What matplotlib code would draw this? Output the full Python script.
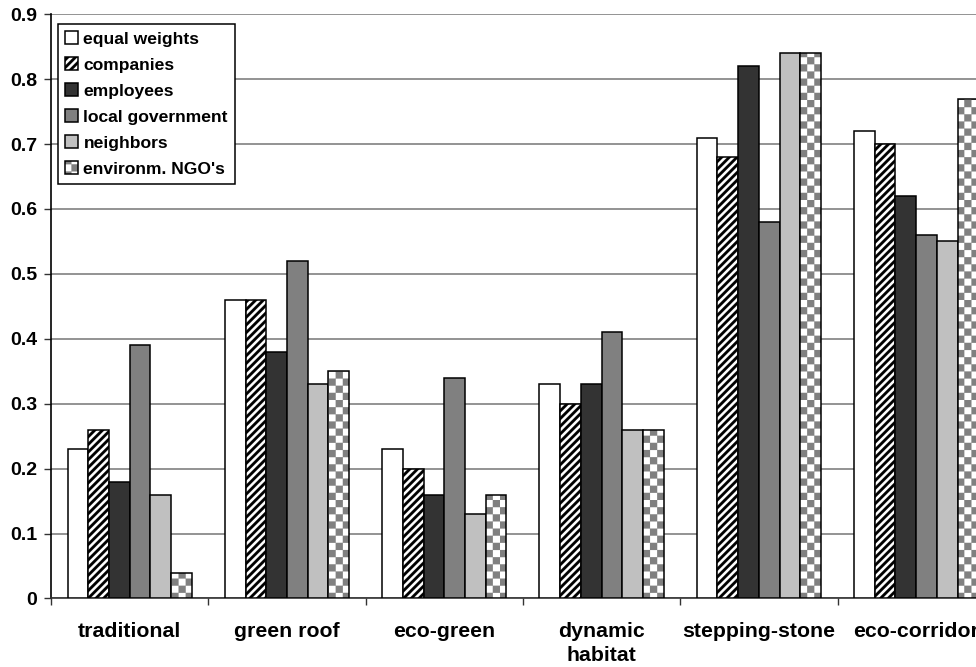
import warnings
import numpy as np
import matplotlib
matplotlib.use("Agg")
import matplotlib.pyplot as plt
import matplotlib.hatch as mhatch
import matplotlib.patches as mpatches
from matplotlib.path import Path

warnings.filterwarnings("ignore")

categories = ["traditional", "green roof", "eco-green", "dynamic\nhabitat",
              "stepping-stone", "eco-corridor"]
series_names = ["equal weights", "companies", "employees", "local government",
                "neighbors", "environm. NGO's"]

equal_weights = [0.23, 0.46, 0.23, 0.33, 0.71, 0.72]
companies = [0.26, 0.46, 0.20, 0.30, 0.68, 0.70]
employees = [0.18, 0.38, 0.16, 0.33, 0.82, 0.62]
local_government = [0.39, 0.52, 0.34, 0.41, 0.58, 0.56]
neighbors = [0.16, 0.33, 0.13, 0.26, 0.84, 0.55]
ngos = [0.04, 0.35, 0.16, 0.26, 0.84, 0.77]


# filled hatches: 'c' = checkerboard, 's' = thick diagonal stripes
class CheckerHatch(mhatch.HatchPatternBase):
    def __init__(self, hatch, density):
        self.n = 14 * hatch.count('c')
        self.num_vertices = (self.n * self.n // 2) * 5

    def set_vertices_and_codes(self, vertices, codes):
        s = 1.0 / self.n
        sq = np.array([[0, 0], [s, 0], [s, s], [0, s], [0, 0]])
        k = 0
        for i in range(self.n):
            for j in range(self.n):
                if (i + j) % 2 == 0:
                    vertices[k:k + 5] = sq + [i * s, j * s]
                    codes[k:k + 5] = [Path.MOVETO, Path.LINETO, Path.LINETO,
                                      Path.LINETO, Path.CLOSEPOLY]
                    k += 5


class StripeHatch(mhatch.HatchPatternBase):
    def __init__(self, hatch, density):
        self.n = 13 * hatch.count('s')
        self.starts = np.arange(-self.n, self.n + 1) / self.n if self.n else []
        self.num_vertices = len(self.starts) * 5

    def set_vertices_and_codes(self, vertices, codes):
        w = 0.5 / self.n
        k = 0
        for x0 in self.starts:
            vertices[k:k + 5] = [[x0, 0], [x0 + w, 0], [x0 + w + 1, 1],
                                 [x0 + 1, 1], [x0, 0]]
            codes[k:k + 5] = [Path.MOVETO, Path.LINETO, Path.LINETO,
                              Path.LINETO, Path.CLOSEPOLY]
            k += 5


mhatch._hatch_types.append(CheckerHatch)
mhatch._hatch_types.append(StripeHatch)

plt.rcParams['font.family'] = ['Liberation Sans', 'DejaVu Sans']
plt.rcParams['font.weight'] = 'bold'
plt.rcParams['hatch.linewidth'] = 0.1

fig = plt.figure(figsize=(9.76, 6.67), dpi=100)
ax = fig.add_axes([0.0523, 0.1027, 0.967, 0.876])

values = [equal_weights, companies, employees, local_government, neighbors, ngos]
faces = ["white", "white", "#333333", "#808080", "#c0c0c0", "white"]
hatches = [None, "s", None, None, None, None]

x = np.arange(len(categories))
w = 0.1316
handles = []
for k, (vals, fc, h) in enumerate(zip(values, faces, hatches)):
    pos = x + (k - 2.5) * w
    if k == 5:
        ax.bar(pos, vals, w, color="white", edgecolor="#808080", hatch="c",
               linewidth=0, zorder=3)
        ax.bar(pos, vals, w, facecolor="none", edgecolor="black",
               linewidth=1.1, zorder=4)
        handles.append((mpatches.Patch(facecolor="white", edgecolor="#808080",
                                       hatch="c", linewidth=0),
                        mpatches.Patch(facecolor="none", edgecolor="black",
                                       linewidth=1.1)))
    else:
        ax.bar(pos, vals, w, color=fc, edgecolor="black", hatch=h,
               linewidth=1.1, zorder=3)
        handles.append(mpatches.Patch(facecolor=fc, edgecolor="black",
                                      hatch=h, linewidth=1.1))

ax.set_xlim(-0.5, len(categories) - 0.5)
ax.set_ylim(0, 0.9)
ax.set_yticks(np.arange(0, 0.91, 0.1))
ax.set_yticklabels(["0"] + ["%.1f" % v for v in np.arange(0.1, 0.91, 0.1)])
ax.yaxis.grid(True, color="#808080", linewidth=1.2, zorder=0)
ax.set_axisbelow(True)

ax.set_xticks(np.arange(-0.5, len(categories), 1.0))
ax.set_xticklabels([])
ax.set_xticks(x, minor=True)
ax.set_xticklabels(categories, minor=True, fontsize=15.3, fontweight="bold",
                   linespacing=1.3)
ax.tick_params(axis="x", which="minor", length=0, pad=17)
ax.tick_params(axis="x", which="major", length=5, width=1, color="#333333")
ax.tick_params(axis="y", length=5, width=1, pad=5, labelsize=14,
               color="#333333")

for s in ["top", "right"]:
    ax.spines[s].set_visible(False)
ax.spines["left"].set_linewidth(1.2)
ax.spines["bottom"].set_linewidth(1.2)
ax.spines["bottom"].set_color("#333333")

leg = ax.legend(handles, series_names, loc="upper left",
                bbox_to_anchor=(0.0074, 0.983), borderaxespad=0,
                fontsize=12.6, frameon=True, fancybox=False, framealpha=1,
                edgecolor="black", handlelength=0.75, handleheight=0.75,
                handletextpad=0.3, labelspacing=0.6, borderpad=0.4)
leg.get_frame().set_linewidth(1.1)

fig.savefig("out.png", dpi=100)
